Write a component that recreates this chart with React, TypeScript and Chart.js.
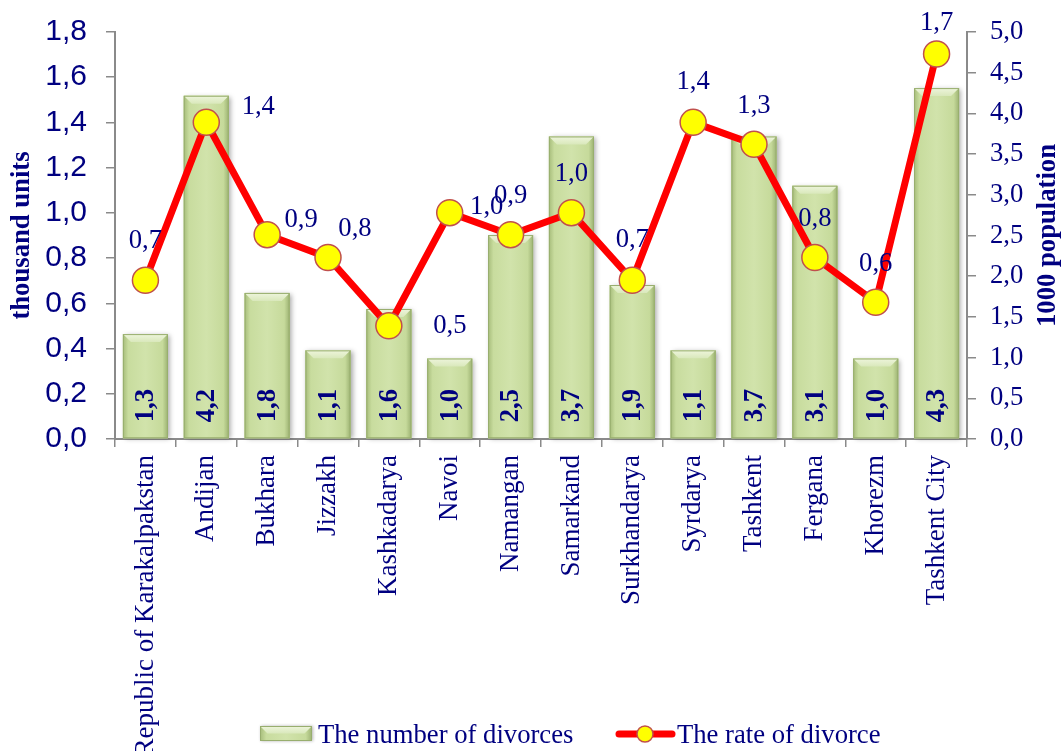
import React, { useEffect, useRef } from 'react';
import { Chart, registerables } from 'chart.js';

Chart.register(...registerables);

// ---- data ----
const categories = [
  'Republic of Karakalpakstan', 'Andijan', 'Bukhara', 'Jizzakh', 'Kashkadarya', 'Navoi', 'Namangan',
  'Samarkand', 'Surkhandarya', 'Syrdarya', 'Tashkent', 'Fergana', 'Khorezm', 'Tashkent City',
];
// bars, left axis (thousand units)
const divorceCounts = [0.464, 1.518, 0.646, 0.392, 0.575, 0.356, 0.902, 1.338, 0.681, 0.392, 1.338, 1.12, 0.356, 1.552];
// line, right axis (per 1000 population)
const divorceRates = [1.95, 3.89, 2.51, 2.23, 1.39, 2.78, 2.51, 2.78, 1.95, 3.89, 3.62, 2.23, 1.68, 4.73];
// value labels printed in the picture
const countLabels = ['1,3', '4,2', '1,8', '1,1', '1,6', '1,0', '2,5', '3,7', '1,9', '1,1', '3,7', '3,1', '1,0', '4,3'];
const rateLabels = ['0,7', '1,4', '0,9', '0,8', '0,5', '1,0', '0,9', '1,0', '0,7', '1,4', '1,3', '0,8', '0,6', '1,7'];
const leftAxisRange = [0, 1.8, 0.2];
const rightAxisRange = [0, 5, 0.5];
const leftTitle = 'thousand units';
const rightTitle = '1000 population';
const barSeriesName = 'The number of divorces';
const lineSeriesName = 'The rate of divorce';

// ---- styling (label placement offsets, in px) ----
const rateLabelShift: [number, number][] = [
  [0, -39], [52, -15], [34, -15], [27, -28], [61, 0], [37, -6], [0, -39],
  [0, -39], [0, -40], [0, -40], [0, -38], [0, -38], [0, -38], [0, -31],
];

const SERIF = "'Liberation Serif', 'Times New Roman', serif";
const SANS = "'Liberation Sans', Arial, sans-serif";
const NAVY = '#000080';
const AXIS_GRAY = '#8a8a8a';
const FS = 26.67;

function comma(v: number) {
  return Number(v).toFixed(1).replace('.', ',');
}

function drawBevelBar(ctx: CanvasRenderingContext2D, l: number, t: number, w: number, h: number) {
  const r = l + w;
  const g = ctx.createLinearGradient(l, 0, r, 0);
  g.addColorStop(0, '#a6bc7a');
  g.addColorStop(0.12, '#c8dc9e');
  g.addColorStop(0.5, '#d1e3ab');
  g.addColorStop(0.88, '#c6da9b');
  g.addColorStop(1, '#9cb272');
  ctx.fillStyle = g;
  ctx.fillRect(l, t, w, h);
  const bev = Math.min(8, h / 2, w / 2);
  const tg = ctx.createLinearGradient(0, t, 0, t + bev);
  tg.addColorStop(0, '#eef5dc');
  tg.addColorStop(1, '#d9e8bb');
  ctx.fillStyle = tg;
  ctx.beginPath();
  ctx.moveTo(l, t);
  ctx.lineTo(r, t);
  ctx.lineTo(r - bev, t + bev);
  ctx.lineTo(l + bev, t + bev);
  ctx.closePath();
  ctx.fill();
  ctx.strokeStyle = '#98ae6e';
  ctx.lineWidth = 1;
  ctx.strokeRect(l + 0.5, t + 0.5, w - 1, h - 1);
}

const barStylePlugin = {
  id: 'barStyle',
  beforeDatasetDraw(chart: any, args: any) {
    if (chart.data.datasets[args.index].type !== 'bar') return;
    const ctx = chart.ctx as CanvasRenderingContext2D;
    ctx.save();
    ctx.shadowColor = 'rgba(0,0,0,0.35)';
    ctx.shadowBlur = 5;
    ctx.shadowOffsetX = 2;
    ctx.shadowOffsetY = 1;
    ctx.fillStyle = '#c4d79b';
    args.meta.data.forEach((el: any) => {
      const { x, y, base, width } = el.getProps(['x', 'y', 'base', 'width'], true);
      ctx.fillRect(x - width / 2, y, width, base - y);
    });
    ctx.restore();
  },
  afterDatasetDraw(chart: any, args: any) {
    if (chart.data.datasets[args.index].type !== 'bar') return;
    const ctx = chart.ctx as CanvasRenderingContext2D;
    ctx.save();
    args.meta.data.forEach((el: any, i: number) => {
      const { x, y, base, width } = el.getProps(['x', 'y', 'base', 'width'], true);
      drawBevelBar(ctx, x - width / 2, y, width, base - y);
      // value label inside bar, rotated
      ctx.save();
      ctx.translate(x, base - 16);
      ctx.rotate(-Math.PI / 2);
      ctx.fillStyle = NAVY;
      ctx.font = `bold ${FS}px ${SERIF}`;
      ctx.textAlign = 'left';
      ctx.textBaseline = 'middle';
      ctx.fillText(countLabels[i], 0, 1);
      ctx.restore();
    });
    ctx.restore();
  },
};

const overlayPlugin = {
  id: 'overlay',
  afterDraw(chart: any) {
    const ctx = chart.ctx as CanvasRenderingContext2D;
    const area = chart.chartArea;
    ctx.save();
    // line value labels
    const lineIdx = chart.data.datasets.findIndex((d: any) => d.type === 'line');
    const meta = chart.getDatasetMeta(lineIdx);
    ctx.font = `${FS}px ${SERIF}`;
    ctx.fillStyle = NAVY;
    ctx.textAlign = 'center';
    ctx.textBaseline = 'middle';
    meta.data.forEach((pt: any, i: number) => {
      const [dx, dy] = rateLabelShift[i];
      ctx.fillText(rateLabels[i], pt.x + dx, pt.y + dy);
    });

    // axis titles (both read bottom-to-top)
    const midY = (area.top + area.bottom) / 2;
    ctx.font = `bold ${FS}px ${SERIF}`;
    ctx.textAlign = 'center';
    ctx.textBaseline = 'middle';
    ctx.save();
    ctx.translate(22, midY);
    ctx.rotate(-Math.PI / 2);
    ctx.fillText(leftTitle, 0, 0);
    ctx.restore();
    ctx.save();
    ctx.translate(1048, midY);
    ctx.rotate(-Math.PI / 2);
    ctx.fillText(rightTitle, 0, 0);
    ctx.restore();

    // legend
    const ly = 734;
    ctx.save();
    ctx.shadowColor = 'rgba(0,0,0,0.3)';
    ctx.shadowBlur = 3;
    ctx.shadowOffsetX = 1;
    ctx.fillStyle = '#c4d79b';
    ctx.fillRect(260, ly - 8, 52, 15);
    ctx.restore();
    drawBevelBar(ctx, 260, ly - 8, 52, 15);
    ctx.font = `${FS}px ${SERIF}`;
    ctx.fillStyle = NAVY;
    ctx.textAlign = 'left';
    ctx.textBaseline = 'alphabetic';
    ctx.fillText(barSeriesName, 318, 743);

    ctx.strokeStyle = '#ff0000';
    ctx.lineWidth = 7;
    ctx.lineCap = 'round';
    ctx.beginPath();
    ctx.moveTo(619, ly);
    ctx.lineTo(672, ly);
    ctx.stroke();
    ctx.beginPath();
    ctx.arc(645, ly, 8, 0, Math.PI * 2);
    ctx.fillStyle = '#ffff00';
    ctx.fill();
    ctx.lineWidth = 1.5;
    ctx.strokeStyle = '#c0504d';
    ctx.stroke();
    ctx.fillStyle = NAVY;
    ctx.fillText(lineSeriesName, 677, 743);
    ctx.restore();
  },
};

export default function App() {
  const ref = useRef<HTMLCanvasElement>(null);

  useEffect(() => {
    const canvas = ref.current;
    if (!canvas) return;
    const chart = new Chart(canvas, {
      type: 'bar',
      data: {
        labels: categories,
        datasets: [
          {
            type: 'bar',
            label: barSeriesName,
            data: divorceCounts,
            yAxisID: 'y',
            order: 1,
            backgroundColor: '#cddfa5',
            borderWidth: 0,
            categoryPercentage: 0.74,
            barPercentage: 1,
          } as any,
          {
            type: 'line',
            label: lineSeriesName,
            data: divorceRates,
            yAxisID: 'y1',
            order: 0,
            borderColor: '#ff0000',
            borderWidth: 7,
            borderCapStyle: 'round',
            borderJoinStyle: 'round',
            tension: 0,
            pointRadius: 13,
            pointHoverRadius: 13,
            pointBackgroundColor: '#ffff00',
            pointBorderColor: '#c0504d',
            pointBorderWidth: 1.5,
            clip: false,
          } as any,
        ],
      },
      options: {
        animation: false,
        responsive: false,
        devicePixelRatio: 1,
        layout: { padding: { top: 32, left: 0, right: 0, bottom: 0 } },
        plugins: {
          legend: { display: false },
          tooltip: { enabled: false },
        },
        scales: {
          x: {
            offset: true,
            grid: {
              offset: true,
              drawOnChartArea: false,
              drawTicks: true,
              tickLength: 8,
              color: AXIS_GRAY,
              lineWidth: 1.5,
            },
            border: { color: AXIS_GRAY, width: 2 },
            ticks: {
              autoSkip: false,
              maxRotation: 90,
              minRotation: 90,
              padding: 8,
              color: NAVY,
              font: { family: SERIF, size: 27 },
            },
            afterFit: (s: any) => {
              s.height = 312;
            },
          },
          y: {
            position: 'left',
            min: leftAxisRange[0],
            max: leftAxisRange[1],
            grid: {
              drawOnChartArea: false,
              drawTicks: true,
              tickLength: 9,
              color: AXIS_GRAY,
              lineWidth: 1.5,
            },
            border: { color: AXIS_GRAY, width: 2 },
            ticks: {
              stepSize: leftAxisRange[2],
              padding: 19,
              color: NAVY,
              font: { family: SANS, size: 30, lineHeight: 0.8 },
              callback: (v: any) => comma(v),
            },
            afterFit: (s: any) => {
              s.width = 115;
            },
          },
          y1: {
            position: 'right',
            min: rightAxisRange[0],
            max: rightAxisRange[1],
            grid: {
              drawOnChartArea: false,
              drawTicks: true,
              tickLength: 9,
              color: AXIS_GRAY,
              lineWidth: 1.5,
            },
            border: { color: AXIS_GRAY, width: 2 },
            ticks: {
              stepSize: rightAxisRange[2],
              padding: 14,
              color: NAVY,
              font: { family: SERIF, size: FS, lineHeight: 1 },
              callback: (v: any) => comma(v),
            },
            afterFit: (s: any) => {
              s.width = 96;
            },
          },
        },
      } as any,
      plugins: [barStylePlugin, overlayPlugin],
    });
    return () => chart.destroy();
  }, []);

  return (
    <div style={{ position: 'fixed', left: 0, top: 0, width: 1063, height: 751, background: '#fff' }}>
      <canvas ref={ref} width={1063} height={751} style={{ display: 'block' }} />
    </div>
  );
}
